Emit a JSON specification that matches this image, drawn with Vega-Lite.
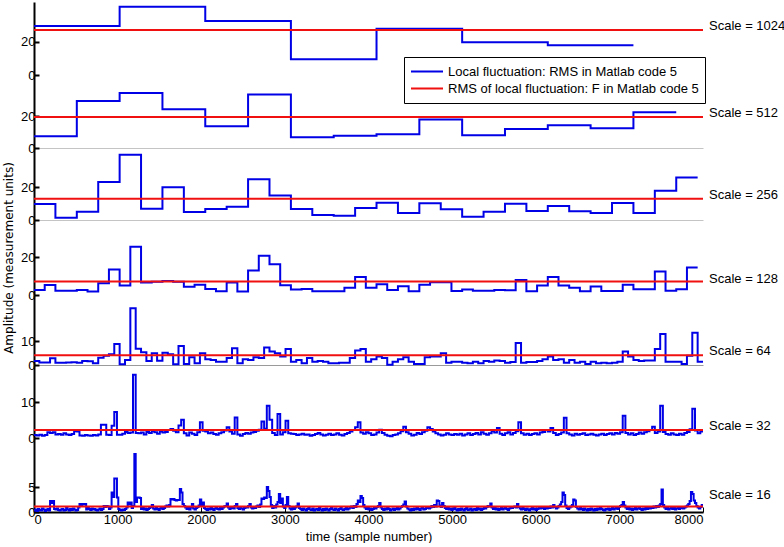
{
"$schema": "https://vega.github.io/schema/vega-lite/v6.json",
"padding": {"left": 2, "top": 2, "right": 0, "bottom": 0},
"bounds": "flush",
"spacing": 0,
"config": {
  "view": {"stroke": null},
  "font": "Liberation Sans",
  "axis": {"grid": false, "labelFont": "Liberation Sans", "labelFontSize": 13, "labelColor": "#000", "domainColor": "#000", "tickColor": "#000", "titleColor": "#000", "titleFontWeight": "normal"},
  "axisY": {"domainWidth": 2, "tickWidth": 2, "tickSize": -5, "labelPadding": 4},
  "line": {"strokeWidth": 2, "color": "#0000e6", "interpolate": "step-after", "strokeJoin": "miter", "strokeCap": "butt"},
  "rule": {"strokeWidth": 2, "color": "#f01010"},
  "text": {"font": "Liberation Sans", "fontSize": 13, "align": "left", "baseline": "middle", "dx": 6, "color": "#000"}
},
"datasets": {
  "rms": [
    {"scale": 1024, "v": 27.0, "label": "Scale = 1024"},
    {"scale": 512, "v": 19.6, "label": "Scale = 512"},
    {"scale": 256, "v": 13.0, "label": "Scale = 256"},
    {"scale": 128, "v": 7.2, "label": "Scale = 128"},
    {"scale": 64, "v": 4.1, "label": "Scale = 64"},
    {"scale": 32, "v": 2.2, "label": "Scale = 32"},
    {"scale": 16, "v": 1.1, "label": "Scale = 16"}
  ],
  "s1024": [{"t":0,"v":29.4},{"t":1024,"v":41},{"t":2048,"v":32.4},{"t":3072,"v":9.4},{"t":4096,"v":27.8},{"t":5120,"v":19.6},{"t":6144,"v":17.8},{"t":7168,"v":17.8}],
  "s512": [{"t":0,"v":7.4},{"t":512,"v":29.7},{"t":1024,"v":34.8},{"t":1536,"v":24.5},{"t":2048,"v":13.7},{"t":2560,"v":33.8},{"t":3072,"v":6.8},{"t":3584,"v":7.8},{"t":4096,"v":8.7},{"t":4608,"v":18},{"t":5120,"v":8},{"t":5632,"v":12},{"t":6144,"v":14.4},{"t":6656,"v":12.5},{"t":7168,"v":22.6},{"t":7680,"v":22.6}],
  "s256": [{"t":0,"v":9.8},{"t":256,"v":1.4},{"t":512,"v":5.1},{"t":768,"v":23.2},{"t":1024,"v":39.8},{"t":1280,"v":6.9},{"t":1536,"v":20},{"t":1792,"v":4.9},{"t":2048,"v":6.7},{"t":2304,"v":8.1},{"t":2560,"v":24.9},{"t":2816,"v":14.9},{"t":3072,"v":6.7},{"t":3328,"v":3.1},{"t":3584,"v":2.6},{"t":3840,"v":7.3},{"t":4096,"v":10.6},{"t":4352,"v":4.3},{"t":4608,"v":10.2},{"t":4864,"v":6.5},{"t":5120,"v":2.0},{"t":5376,"v":5.1},{"t":5632,"v":10},{"t":5888,"v":5.5},{"t":6144,"v":8.6},{"t":6400,"v":5.3},{"t":6656,"v":4.3},{"t":6912,"v":10.4},{"t":7168,"v":4.3},{"t":7424,"v":17.9},{"t":7680,"v":25.9},{"t":7936,"v":25.9}],
  "s128": [{"t":0,"v":2.7},{"t":128,"v":5.3},{"t":256,"v":2.3},{"t":384,"v":2.3},{"t":512,"v":2.7},{"t":640,"v":1.8},{"t":768,"v":6.2},{"t":896,"v":13.6},{"t":1024,"v":5.0},{"t":1152,"v":25.7},{"t":1280,"v":6.7},{"t":1408,"v":7.1},{"t":1536,"v":7.4},{"t":1664,"v":7.1},{"t":1792,"v":4.4},{"t":1920,"v":5.5},{"t":2048,"v":3.2},{"t":2176,"v":2.0},{"t":2304,"v":6.6},{"t":2432,"v":1.8},{"t":2560,"v":13},{"t":2688,"v":20.9},{"t":2816,"v":16.4},{"t":2944,"v":5.2},{"t":3072,"v":2.9},{"t":3200,"v":3.2},{"t":3328,"v":2.0},{"t":3456,"v":2.0},{"t":3584,"v":2.0},{"t":3712,"v":3.9},{"t":3840,"v":9.6},{"t":3968,"v":3.8},{"t":4096,"v":5.7},{"t":4224,"v":2.7},{"t":4352,"v":4.6},{"t":4480,"v":2.0},{"t":4608,"v":5.5},{"t":4736,"v":6.8},{"t":4864,"v":6.8},{"t":4992,"v":2.1},{"t":5120,"v":2.9},{"t":5248,"v":2.3},{"t":5376,"v":2.3},{"t":5504,"v":2.7},{"t":5632,"v":2.5},{"t":5760,"v":8.0},{"t":5888,"v":2.0},{"t":6016,"v":5.0},{"t":6144,"v":9.6},{"t":6272,"v":5.0},{"t":6400,"v":3.9},{"t":6528,"v":2.0},{"t":6656,"v":4.5},{"t":6784,"v":2.1},{"t":6912,"v":2.1},{"t":7040,"v":5.4},{"t":7168,"v":3.0},{"t":7296,"v":3.0},{"t":7424,"v":12.5},{"t":7552,"v":2.3},{"t":7680,"v":3.0},{"t":7808,"v":14.6},{"t":7936,"v":14.6}],
  "s64": [{"t":0,"v":1.7},{"t":64,"v":1.1},{"t":128,"v":1.1},{"t":192,"v":2.8},{"t":256,"v":1.0},{"t":320,"v":0.9},{"t":384,"v":1.1},{"t":448,"v":1.2},{"t":512,"v":1.0},{"t":576,"v":1.7},{"t":640,"v":1.6},{"t":704,"v":0.7},{"t":768,"v":3.1},{"t":832,"v":3.9},{"t":896,"v":4.5},{"t":960,"v":8.9},{"t":1024,"v":0.3},{"t":1088,"v":2.1},{"t":1152,"v":23.9},{"t":1216,"v":6.8},{"t":1280,"v":5.4},{"t":1344,"v":1.7},{"t":1408,"v":4.9},{"t":1472,"v":1.8},{"t":1536,"v":5.2},{"t":1600,"v":4.5},{"t":1664,"v":0.3},{"t":1728,"v":8.0},{"t":1792,"v":0.4},{"t":1856,"v":3.3},{"t":1920,"v":0.7},{"t":1984,"v":5.0},{"t":2048,"v":2.4},{"t":2112,"v":2.1},{"t":2176,"v":1.4},{"t":2240,"v":1.4},{"t":2304,"v":2.9},{"t":2368,"v":7.1},{"t":2432,"v":0.7},{"t":2496,"v":2.4},{"t":2560,"v":2.1},{"t":2624,"v":3.3},{"t":2688,"v":2.9},{"t":2752,"v":7.4},{"t":2816,"v":5.7},{"t":2880,"v":5.0},{"t":2944,"v":3.6},{"t":3008,"v":6.7},{"t":3072,"v":1.4},{"t":3136,"v":2.1},{"t":3200,"v":0.7},{"t":3264,"v":2.9},{"t":3328,"v":1.4},{"t":3392,"v":1.7},{"t":3456,"v":1.4},{"t":3520,"v":0.7},{"t":3584,"v":0.7},{"t":3648,"v":1.0},{"t":3712,"v":1.0},{"t":3776,"v":2.9},{"t":3840,"v":6.1},{"t":3904,"v":6.7},{"t":3968,"v":1.4},{"t":4032,"v":2.4},{"t":4096,"v":3.6},{"t":4160,"v":2.9},{"t":4224,"v":0.1},{"t":4288,"v":1.4},{"t":4352,"v":2.4},{"t":4416,"v":3.3},{"t":4480,"v":1.4},{"t":4544,"v":0.4},{"t":4608,"v":0.4},{"t":4672,"v":3.3},{"t":4736,"v":3.6},{"t":4800,"v":3.6},{"t":4864,"v":5.0},{"t":4928,"v":1.0},{"t":4992,"v":1.4},{"t":5056,"v":1.4},{"t":5120,"v":1.0},{"t":5184,"v":0.7},{"t":5248,"v":1.4},{"t":5312,"v":0.7},{"t":5376,"v":1.7},{"t":5440,"v":1.4},{"t":5504,"v":1.9},{"t":5568,"v":1.7},{"t":5632,"v":1.0},{"t":5696,"v":1.3},{"t":5760,"v":9.3},{"t":5824,"v":1.0},{"t":5888,"v":1.3},{"t":5952,"v":1.3},{"t":6016,"v":1.7},{"t":6080,"v":2.4},{"t":6144,"v":3.6},{"t":6208,"v":2.1},{"t":6272,"v":2.4},{"t":6336,"v":1.0},{"t":6400,"v":2.1},{"t":6464,"v":1.0},{"t":6528,"v":1.4},{"t":6592,"v":0.4},{"t":6656,"v":1.4},{"t":6720,"v":0.7},{"t":6784,"v":1.0},{"t":6848,"v":0.7},{"t":6912,"v":1.0},{"t":6976,"v":1.4},{"t":7040,"v":5.7},{"t":7104,"v":3.6},{"t":7168,"v":2.1},{"t":7232,"v":1.7},{"t":7296,"v":1.9},{"t":7360,"v":1.9},{"t":7424,"v":6.7},{"t":7488,"v":13.1},{"t":7552,"v":1.4},{"t":7616,"v":1.4},{"t":7680,"v":1.4},{"t":7744,"v":0.4},{"t":7808,"v":3.9},{"t":7872,"v":13.6},{"t":7936,"v":1.4},{"t":8000,"v":1.4}],
  "s32": [
{"t":0,"v":0.8},{"t":32,"v":0.7},{"t":64,"v":0.9},{"t":96,"v":0.6},{"t":128,"v":0.8},{"t":160,"v":1.6},{"t":192,"v":1.4},{"t":224,"v":1.6},{"t":256,"v":1.0},{"t":288,"v":1.1},
{"t":320,"v":0.9},{"t":352,"v":1.3},{"t":384,"v":1.0},{"t":416,"v":0.8},{"t":448,"v":1.1},{"t":480,"v":1.9},{"t":512,"v":1.8},{"t":544,"v":0.7},{"t":576,"v":0.6},{"t":608,"v":0.8},
{"t":640,"v":0.7},{"t":672,"v":0.6},{"t":704,"v":0.8},{"t":736,"v":0.7},{"t":768,"v":1.0},{"t":800,"v":3.7},{"t":832,"v":3.7},{"t":864,"v":0.9},{"t":896,"v":0.8},{"t":928,"v":3.4},
{"t":960,"v":7.2},{"t":992,"v":0.9},{"t":1024,"v":0.9},{"t":1056,"v":1.2},{"t":1088,"v":1.7},{"t":1120,"v":1.4},{"t":1152,"v":1.5},{"t":1184,"v":17.6},{"t":1216,"v":1.4},{"t":1248,"v":1.3},
{"t":1280,"v":1.5},{"t":1312,"v":1.0},{"t":1344,"v":1.7},{"t":1376,"v":1.4},{"t":1408,"v":1.9},{"t":1440,"v":1.6},{"t":1472,"v":1.2},{"t":1504,"v":1.8},{"t":1536,"v":1.5},{"t":1568,"v":1.7},
{"t":1600,"v":2.2},{"t":1632,"v":2.5},{"t":1664,"v":2.0},{"t":1696,"v":1.6},{"t":1728,"v":3.5},{"t":1760,"v":5.1},{"t":1792,"v":1.3},{"t":1824,"v":0.7},{"t":1856,"v":1.5},{"t":1888,"v":1.2},
{"t":1920,"v":0.8},{"t":1952,"v":1.6},{"t":1984,"v":4.4},{"t":2016,"v":2.0},{"t":2048,"v":1.8},{"t":2080,"v":1.3},{"t":2112,"v":1.5},{"t":2144,"v":1.1},{"t":2176,"v":0.9},{"t":2208,"v":1.3},
{"t":2240,"v":1.6},{"t":2272,"v":2.1},{"t":2304,"v":3.0},{"t":2336,"v":1.8},{"t":2368,"v":1.2},{"t":2400,"v":5.7},{"t":2432,"v":1.0},{"t":2464,"v":0.6},{"t":2496,"v":1.1},{"t":2528,"v":1.4},
{"t":2560,"v":1.2},{"t":2592,"v":1.5},{"t":2624,"v":1.7},{"t":2656,"v":2.0},{"t":2688,"v":2.3},{"t":2720,"v":4.6},{"t":2752,"v":2.6},{"t":2784,"v":9.0},{"t":2816,"v":5.1},{"t":2848,"v":1.4},
{"t":2880,"v":0.8},{"t":2912,"v":6.7},{"t":2944,"v":1.0},{"t":2976,"v":1.6},{"t":3008,"v":4.8},{"t":3040,"v":1.3},{"t":3072,"v":1.2},{"t":3104,"v":1.1},{"t":3136,"v":0.8},{"t":3168,"v":1.0},
{"t":3200,"v":1.2},{"t":3232,"v":0.9},{"t":3264,"v":1.0},{"t":3296,"v":0.6},{"t":3328,"v":0.8},{"t":3360,"v":1.1},{"t":3392,"v":1.4},{"t":3424,"v":1.0},{"t":3456,"v":0.7},{"t":3488,"v":0.9},
{"t":3520,"v":1.2},{"t":3552,"v":0.8},{"t":3584,"v":1.0},{"t":3616,"v":1.3},{"t":3648,"v":0.9},{"t":3680,"v":0.7},{"t":3712,"v":1.1},{"t":3744,"v":1.4},{"t":3776,"v":1.8},{"t":3808,"v":2.2},
{"t":3840,"v":3.0},{"t":3872,"v":4.4},{"t":3904,"v":1.5},{"t":3936,"v":1.2},{"t":3968,"v":1.6},{"t":4000,"v":1.3},{"t":4032,"v":0.8},{"t":4064,"v":1.0},{"t":4096,"v":1.5},{"t":4128,"v":2.3},
{"t":4160,"v":1.4},{"t":4192,"v":0.9},{"t":4224,"v":0.6},{"t":4256,"v":0.5},{"t":4288,"v":0.8},{"t":4320,"v":1.0},{"t":4352,"v":1.3},{"t":4384,"v":1.9},{"t":4416,"v":3.1},{"t":4448,"v":1.6},
{"t":4480,"v":1.2},{"t":4512,"v":0.7},{"t":4544,"v":0.9},{"t":4576,"v":1.4},{"t":4608,"v":1.1},{"t":4640,"v":1.6},{"t":4672,"v":2.0},{"t":4704,"v":3.0},{"t":4736,"v":2.5},{"t":4768,"v":1.8},
{"t":4800,"v":1.3},{"t":4832,"v":1.0},{"t":4864,"v":0.7},{"t":4896,"v":0.9},{"t":4928,"v":1.3},{"t":4960,"v":1.0},{"t":4992,"v":0.8},{"t":5024,"v":1.1},{"t":5056,"v":0.9},{"t":5088,"v":1.2},
{"t":5120,"v":0.7},{"t":5152,"v":1.0},{"t":5184,"v":1.3},{"t":5216,"v":0.8},{"t":5248,"v":1.1},{"t":5280,"v":1.4},{"t":5312,"v":1.0},{"t":5344,"v":1.6},{"t":5376,"v":1.2},{"t":5408,"v":0.9},
{"t":5440,"v":1.3},{"t":5472,"v":1.9},{"t":5504,"v":1.5},{"t":5536,"v":2.8},{"t":5568,"v":1.2},{"t":5600,"v":0.8},{"t":5632,"v":1.3},{"t":5664,"v":1.6},{"t":5696,"v":1.0},{"t":5728,"v":1.4},
{"t":5760,"v":1.9},{"t":5792,"v":4.4},{"t":5824,"v":1.3},{"t":5856,"v":0.9},{"t":5888,"v":1.2},{"t":5920,"v":0.8},{"t":5952,"v":1.1},{"t":5984,"v":1.3},{"t":6016,"v":1.0},{"t":6048,"v":1.5},
{"t":6080,"v":1.7},{"t":6112,"v":2.2},{"t":6144,"v":1.8},{"t":6176,"v":2.8},{"t":6208,"v":1.4},{"t":6240,"v":0.8},{"t":6272,"v":1.1},{"t":6304,"v":1.5},{"t":6336,"v":5.6},{"t":6368,"v":1.3},
{"t":6400,"v":1.0},{"t":6432,"v":0.7},{"t":6464,"v":1.2},{"t":6496,"v":0.9},{"t":6528,"v":1.1},{"t":6560,"v":1.3},{"t":6592,"v":0.8},{"t":6624,"v":1.0},{"t":6656,"v":1.2},{"t":6688,"v":0.9},
{"t":6720,"v":0.7},{"t":6752,"v":1.0},{"t":6784,"v":1.2},{"t":6816,"v":0.8},{"t":6848,"v":1.1},{"t":6880,"v":1.3},{"t":6912,"v":1.0},{"t":6944,"v":1.4},{"t":6976,"v":1.2},{"t":7008,"v":1.6},
{"t":7040,"v":6.2},{"t":7072,"v":1.4},{"t":7104,"v":1.0},{"t":7136,"v":1.3},{"t":7168,"v":0.8},{"t":7200,"v":1.1},{"t":7232,"v":1.5},{"t":7264,"v":1.2},{"t":7296,"v":1.6},{"t":7328,"v":1.9},
{"t":7360,"v":2.2},{"t":7392,"v":3.1},{"t":7424,"v":1.4},{"t":7456,"v":1.8},{"t":7488,"v":9.0},{"t":7520,"v":1.7},{"t":7552,"v":1.1},{"t":7584,"v":0.9},{"t":7616,"v":1.3},{"t":7648,"v":1.0},
{"t":7680,"v":0.8},{"t":7712,"v":1.2},{"t":7744,"v":0.9},{"t":7776,"v":1.4},{"t":7808,"v":1.7},{"t":7840,"v":2.4},{"t":7872,"v":8.1},{"t":7904,"v":2.1},{"t":7936,"v":1.3},{"t":7968,"v":1.8},
{"t":8000,"v":1.8}],
  "s16": [
{"t":0,"v":0.3},{"t":16,"v":0.5},{"t":32,"v":0.2},{"t":48,"v":0.6},{"t":64,"v":0.4},{"t":80,"v":0.3},{"t":96,"v":0.7},{"t":112,"v":0.5},{"t":128,"v":0.2},{"t":144,"v":0.4},{"t":160,"v":0.6},{"t":176,"v":0.3},{"t":192,"v":2.2},{"t":208,"v":1.8},{"t":224,"v":2.2},{"t":240,"v":0.6},{"t":256,"v":0.5},{"t":272,"v":0.7},{"t":288,"v":0.4},{"t":304,"v":0.3},
{"t":320,"v":0.5},{"t":336,"v":0.6},{"t":352,"v":0.3},{"t":368,"v":0.4},{"t":384,"v":0.8},{"t":400,"v":0.5},{"t":416,"v":0.3},{"t":432,"v":0.6},{"t":448,"v":0.4},{"t":464,"v":0.7},{"t":480,"v":0.5},{"t":496,"v":0.3},{"t":512,"v":0.4},{"t":528,"v":0.9},{"t":544,"v":1.6},{"t":560,"v":1.4},{"t":576,"v":1.6},{"t":592,"v":1.5},{"t":608,"v":1.6},{"t":624,"v":0.5},
{"t":640,"v":0.8},{"t":656,"v":0.6},{"t":672,"v":0.4},{"t":688,"v":0.7},{"t":704,"v":0.5},{"t":720,"v":0.6},{"t":736,"v":0.4},{"t":752,"v":0.3},{"t":768,"v":0.5},{"t":784,"v":0.7},{"t":800,"v":0.4},{"t":816,"v":0.6},{"t":832,"v":1.2},{"t":848,"v":1.0},{"t":864,"v":1.2},{"t":880,"v":1.1},{"t":896,"v":0.6},{"t":912,"v":0.9},{"t":928,"v":3.9},{"t":944,"v":3.0},
{"t":960,"v":6.7},{"t":976,"v":6.7},{"t":992,"v":2.9},{"t":1008,"v":0.6},{"t":1024,"v":0.4},{"t":1040,"v":0.3},{"t":1056,"v":0.5},{"t":1072,"v":0.4},{"t":1088,"v":0.6},{"t":1104,"v":0.9},{"t":1120,"v":1.9},{"t":1136,"v":1.5},{"t":1152,"v":1.9},{"t":1168,"v":0.8},{"t":1184,"v":1.2},{"t":1200,"v":11.6},{"t":1216,"v":2.0},{"t":1232,"v":2.9},{"t":1248,"v":2.9},{"t":1264,"v":2.8},
{"t":1280,"v":0.6},{"t":1296,"v":0.9},{"t":1312,"v":0.5},{"t":1328,"v":0.7},{"t":1344,"v":0.4},{"t":1360,"v":0.6},{"t":1376,"v":0.8},{"t":1392,"v":1.0},{"t":1408,"v":1.4},{"t":1424,"v":0.7},{"t":1440,"v":0.5},{"t":1456,"v":0.8},{"t":1472,"v":0.6},{"t":1488,"v":0.4},{"t":1504,"v":0.7},{"t":1520,"v":0.9},{"t":1536,"v":0.6},{"t":1552,"v":0.8},{"t":1568,"v":1.1},{"t":1584,"v":1.3},
{"t":1600,"v":1.1},{"t":1616,"v":1.4},{"t":1632,"v":2.6},{"t":1648,"v":2.5},{"t":1664,"v":2.6},{"t":1680,"v":2.4},{"t":1696,"v":2.3},{"t":1712,"v":2.4},{"t":1728,"v":2.4},{"t":1744,"v":4.6},{"t":1760,"v":3.9},{"t":1776,"v":1.6},{"t":1792,"v":1.2},{"t":1808,"v":0.9},{"t":1824,"v":0.6},{"t":1840,"v":0.8},{"t":1856,"v":0.5},{"t":1872,"v":0.9},{"t":1888,"v":1.6},{"t":1904,"v":0.7},
{"t":1920,"v":0.5},{"t":1936,"v":0.8},{"t":1952,"v":1.0},{"t":1968,"v":1.3},{"t":1984,"v":2.5},{"t":2000,"v":1.2},{"t":2016,"v":1.9},{"t":2032,"v":0.8},{"t":2048,"v":0.6},{"t":2064,"v":0.4},{"t":2080,"v":0.7},{"t":2096,"v":0.5},{"t":2112,"v":0.8},{"t":2128,"v":0.6},{"t":2144,"v":0.4},{"t":2160,"v":0.7},{"t":2176,"v":0.9},{"t":2192,"v":0.6},{"t":2208,"v":0.5},{"t":2224,"v":0.8},
{"t":2240,"v":0.6},{"t":2256,"v":0.9},{"t":2272,"v":1.1},{"t":2288,"v":1.2},{"t":2304,"v":1.7},{"t":2320,"v":0.9},{"t":2336,"v":0.6},{"t":2352,"v":0.8},{"t":2368,"v":1.0},{"t":2384,"v":0.7},{"t":2400,"v":1.2},{"t":2416,"v":1.6},{"t":2432,"v":0.8},{"t":2448,"v":0.6},{"t":2464,"v":0.9},{"t":2480,"v":0.7},{"t":2496,"v":0.5},{"t":2512,"v":0.8},{"t":2528,"v":1.0},{"t":2544,"v":0.9},
{"t":2560,"v":1.2},{"t":2576,"v":1.6},{"t":2592,"v":0.9},{"t":2608,"v":0.7},{"t":2624,"v":1.0},{"t":2640,"v":0.8},{"t":2656,"v":1.1},{"t":2672,"v":1.3},{"t":2688,"v":1.0},{"t":2704,"v":1.5},{"t":2720,"v":2.7},{"t":2736,"v":2.6},{"t":2752,"v":2.9},{"t":2768,"v":2.8},{"t":2784,"v":5.0},{"t":2800,"v":4.2},{"t":2816,"v":3.0},{"t":2832,"v":1.4},{"t":2848,"v":0.8},{"t":2864,"v":1.2},
{"t":2880,"v":0.9},{"t":2896,"v":1.5},{"t":2912,"v":2.0},{"t":2928,"v":3.6},{"t":2944,"v":1.8},{"t":2960,"v":2.7},{"t":2976,"v":1.1},{"t":2992,"v":0.8},{"t":3008,"v":1.4},{"t":3024,"v":3.0},{"t":3040,"v":1.2},{"t":3056,"v":0.7},{"t":3072,"v":0.5},{"t":3088,"v":0.8},{"t":3104,"v":0.6},{"t":3120,"v":0.9},{"t":3136,"v":1.1},{"t":3152,"v":1.7},{"t":3168,"v":0.8},{"t":3184,"v":0.6},
{"t":3200,"v":0.4},{"t":3216,"v":0.7},{"t":3232,"v":0.5},{"t":3248,"v":0.3},{"t":3264,"v":0.6},{"t":3280,"v":0.8},{"t":3296,"v":0.5},{"t":3312,"v":0.4},{"t":3328,"v":0.7},{"t":3344,"v":0.3},{"t":3360,"v":0.5},{"t":3376,"v":0.6},{"t":3392,"v":0.4},{"t":3408,"v":0.8},{"t":3424,"v":0.5},{"t":3440,"v":0.3},{"t":3456,"v":0.6},{"t":3472,"v":0.4},{"t":3488,"v":0.7},{"t":3504,"v":0.5},
{"t":3520,"v":0.3},{"t":3536,"v":0.6},{"t":3552,"v":0.8},{"t":3568,"v":0.5},{"t":3584,"v":0.4},{"t":3600,"v":0.7},{"t":3616,"v":0.5},{"t":3632,"v":0.3},{"t":3648,"v":0.6},{"t":3664,"v":0.9},{"t":3680,"v":0.5},{"t":3696,"v":0.4},{"t":3712,"v":0.6},{"t":3728,"v":0.8},{"t":3744,"v":0.5},{"t":3760,"v":0.7},{"t":3776,"v":0.9},{"t":3792,"v":1.1},{"t":3808,"v":0.8},{"t":3824,"v":1.2},
{"t":3840,"v":1.0},{"t":3856,"v":1.6},{"t":3872,"v":2.3},{"t":3888,"v":2.0},{"t":3904,"v":3.2},{"t":3920,"v":2.8},{"t":3936,"v":1.4},{"t":3952,"v":0.9},{"t":3968,"v":0.6},{"t":3984,"v":0.8},{"t":4000,"v":0.5},{"t":4016,"v":0.7},{"t":4032,"v":0.4},{"t":4048,"v":0.6},{"t":4064,"v":0.9},{"t":4080,"v":0.7},{"t":4096,"v":1.0},{"t":4112,"v":1.2},{"t":4128,"v":1.8},{"t":4144,"v":0.9},
{"t":4160,"v":0.6},{"t":4176,"v":0.4},{"t":4192,"v":0.7},{"t":4208,"v":0.5},{"t":4224,"v":0.8},{"t":4240,"v":0.6},{"t":4256,"v":0.3},{"t":4272,"v":0.5},{"t":4288,"v":0.7},{"t":4304,"v":0.4},{"t":4320,"v":0.6},{"t":4336,"v":0.8},{"t":4352,"v":0.5},{"t":4368,"v":0.7},{"t":4384,"v":1.0},{"t":4400,"v":1.2},{"t":4416,"v":1.5},{"t":4432,"v":2.1},{"t":4448,"v":1.1},{"t":4464,"v":0.7},
{"t":4480,"v":0.5},{"t":4496,"v":0.3},{"t":4512,"v":0.6},{"t":4528,"v":0.4},{"t":4544,"v":0.7},{"t":4560,"v":0.5},{"t":4576,"v":0.8},{"t":4592,"v":0.6},{"t":4608,"v":0.4},{"t":4624,"v":0.7},{"t":4640,"v":0.9},{"t":4656,"v":0.5},{"t":4672,"v":0.6},{"t":4688,"v":0.8},{"t":4704,"v":1.0},{"t":4720,"v":0.7},{"t":4736,"v":0.9},{"t":4752,"v":1.2},{"t":4768,"v":1.0},{"t":4784,"v":1.4},
{"t":4800,"v":1.1},{"t":4816,"v":2.3},{"t":4832,"v":2.2},{"t":4848,"v":1.3},{"t":4864,"v":1.0},{"t":4880,"v":1.8},{"t":4896,"v":1.2},{"t":4912,"v":0.8},{"t":4928,"v":0.6},{"t":4944,"v":0.9},{"t":4960,"v":0.5},{"t":4976,"v":0.7},{"t":4992,"v":0.4},{"t":5008,"v":0.6},{"t":5024,"v":0.8},{"t":5040,"v":0.5},{"t":5056,"v":0.3},{"t":5072,"v":0.6},{"t":5088,"v":0.4},{"t":5104,"v":0.7},
{"t":5120,"v":0.5},{"t":5136,"v":0.3},{"t":5152,"v":0.6},{"t":5168,"v":0.8},{"t":5184,"v":0.4},{"t":5200,"v":0.5},{"t":5216,"v":0.7},{"t":5232,"v":0.3},{"t":5248,"v":0.5},{"t":5264,"v":0.6},{"t":5280,"v":0.4},{"t":5296,"v":0.8},{"t":5312,"v":0.5},{"t":5328,"v":0.7},{"t":5344,"v":0.4},{"t":5360,"v":0.6},{"t":5376,"v":0.9},{"t":5392,"v":0.7},{"t":5408,"v":1.0},{"t":5424,"v":1.2},
{"t":5440,"v":1.1},{"t":5456,"v":1.7},{"t":5472,"v":0.9},{"t":5488,"v":0.6},{"t":5504,"v":0.8},{"t":5520,"v":0.5},{"t":5536,"v":0.7},{"t":5552,"v":0.4},{"t":5568,"v":0.6},{"t":5584,"v":0.8},{"t":5600,"v":0.5},{"t":5616,"v":0.7},{"t":5632,"v":0.9},{"t":5648,"v":0.6},{"t":5664,"v":0.4},{"t":5680,"v":0.7},{"t":5696,"v":0.9},{"t":5712,"v":0.8},{"t":5728,"v":1.0},{"t":5744,"v":1.1},
{"t":5760,"v":0.9},{"t":5776,"v":1.6},{"t":5792,"v":1.0},{"t":5808,"v":0.7},{"t":5824,"v":0.5},{"t":5840,"v":0.8},{"t":5856,"v":0.6},{"t":5872,"v":0.4},{"t":5888,"v":0.7},{"t":5904,"v":0.5},{"t":5920,"v":0.3},{"t":5936,"v":0.6},{"t":5952,"v":0.8},{"t":5968,"v":0.5},{"t":5984,"v":0.7},{"t":6000,"v":0.4},{"t":6016,"v":0.6},{"t":6032,"v":0.9},{"t":6048,"v":0.7},{"t":6064,"v":1.0},
{"t":6080,"v":0.8},{"t":6096,"v":0.6},{"t":6112,"v":0.9},{"t":6128,"v":0.7},{"t":6144,"v":1.0},{"t":6160,"v":0.8},{"t":6176,"v":1.1},{"t":6192,"v":0.9},{"t":6208,"v":1.4},{"t":6224,"v":1.0},{"t":6240,"v":0.7},{"t":6256,"v":0.9},{"t":6272,"v":1.2},{"t":6288,"v":1.5},{"t":6304,"v":2.0},{"t":6320,"v":3.9},{"t":6336,"v":3.4},{"t":6352,"v":1.3},{"t":6368,"v":0.8},{"t":6384,"v":0.6},
{"t":6400,"v":0.9},{"t":6416,"v":1.1},{"t":6432,"v":1.4},{"t":6448,"v":2.5},{"t":6464,"v":2.3},{"t":6480,"v":1.0},{"t":6496,"v":0.7},{"t":6512,"v":0.5},{"t":6528,"v":0.8},{"t":6544,"v":0.6},{"t":6560,"v":0.4},{"t":6576,"v":0.7},{"t":6592,"v":0.5},{"t":6608,"v":0.3},{"t":6624,"v":0.6},{"t":6640,"v":0.4},{"t":6656,"v":0.7},{"t":6672,"v":0.5},{"t":6688,"v":0.3},{"t":6704,"v":0.6},
{"t":6720,"v":0.4},{"t":6736,"v":0.7},{"t":6752,"v":0.5},{"t":6768,"v":0.8},{"t":6784,"v":0.6},{"t":6800,"v":0.4},{"t":6816,"v":0.3},{"t":6832,"v":0.6},{"t":6848,"v":0.5},{"t":6864,"v":0.7},{"t":6880,"v":0.4},{"t":6896,"v":0.6},{"t":6912,"v":0.8},{"t":6928,"v":0.5},{"t":6944,"v":0.7},{"t":6960,"v":0.9},{"t":6976,"v":0.6},{"t":6992,"v":1.0},{"t":7008,"v":1.2},{"t":7024,"v":1.4},
{"t":7040,"v":2.0},{"t":7056,"v":1.3},{"t":7072,"v":0.9},{"t":7088,"v":0.6},{"t":7104,"v":0.8},{"t":7120,"v":0.5},{"t":7136,"v":0.7},{"t":7152,"v":0.4},{"t":7168,"v":0.6},{"t":7184,"v":0.8},{"t":7200,"v":0.5},{"t":7216,"v":0.7},{"t":7232,"v":0.9},{"t":7248,"v":0.6},{"t":7264,"v":0.4},{"t":7280,"v":0.7},{"t":7296,"v":0.5},{"t":7312,"v":0.8},{"t":7328,"v":0.6},{"t":7344,"v":0.9},
{"t":7360,"v":0.7},{"t":7376,"v":1.0},{"t":7392,"v":0.8},{"t":7408,"v":1.1},{"t":7424,"v":0.9},{"t":7440,"v":1.2},{"t":7456,"v":1.0},{"t":7472,"v":1.3},{"t":7488,"v":1.6},{"t":7504,"v":4.5},{"t":7520,"v":1.4},{"t":7536,"v":0.9},{"t":7552,"v":0.6},{"t":7568,"v":0.8},{"t":7584,"v":0.5},{"t":7600,"v":0.7},{"t":7616,"v":0.9},{"t":7632,"v":0.6},{"t":7648,"v":0.8},{"t":7664,"v":0.5},
{"t":7680,"v":0.7},{"t":7696,"v":0.9},{"t":7712,"v":0.6},{"t":7728,"v":0.8},{"t":7744,"v":1.0},{"t":7760,"v":0.7},{"t":7776,"v":0.9},{"t":7792,"v":1.1},{"t":7808,"v":1.3},{"t":7824,"v":1.6},{"t":7840,"v":2.2},{"t":7856,"v":4.0},{"t":7872,"v":3.6},{"t":7888,"v":2.3},{"t":7904,"v":1.8},{"t":7920,"v":1.2},{"t":7936,"v":0.9},{"t":7952,"v":0.7},{"t":7968,"v":1.0},{"t":7984,"v":1.4},
{"t":8000,"v":1.4}]
},
"vconcat": [
  {"width": 669, "height": 73, "layer": [
    {"data": {"name": "s1024"}, "mark": {"type": "line"},
     "encoding": {
       "x": {"field": "t", "type": "quantitative", "scale": {"domain": [0, 8000], "nice": false}, "axis": null},
       "y": {"field": "v", "type": "quantitative", "scale": {"domain": [0, 43.8], "nice": false}, "axis": {"values": [0, 20], "title": null}},
       "color": {"datum": "Local fluctuation: RMS in Matlab code 5",
         "scale": {"domain": ["Local fluctuation: RMS in Matlab code 5", "RMS of local fluctuation: F in Matlab code 5"], "range": ["#0000e6", "#f01010"]},
         "legend": {"orient": "none", "legendX": 370, "legendY": 55, "title": null, "symbolType": "stroke", "symbolSize": 1024, "symbolStrokeWidth": 2, "clipHeight": 17, "rowPadding": 0, "labelFont": "Liberation Sans", "labelFontSize": 13, "labelColor": "#000", "labelLimit": 400, "labelOffset": 4, "padding": 6, "fillColor": "white", "strokeColor": "black"}}
     }},
    {"data": {"name": "rms"}, "transform": [{"filter": "datum.scale == 1024"}], "mark": {"type": "rule"},
     "encoding": {"y": {"field": "v", "type": "quantitative"}, "color": {"datum": "RMS of local fluctuation: F in Matlab code 5"}}},
    {"data": {"name": "rms"}, "transform": [{"filter": "datum.scale == 1024"}], "mark": {"type": "text", "dy": -4},
     "encoding": {"x": {"datum": 8000, "type": "quantitative"}, "y": {"field": "v", "type": "quantitative"}, "text": {"field": "label"}}}
  ]},
  {"width": 669, "height": 73, "layer": [
    {"data": {"name": "s512"}, "mark": {"type": "line"},
     "encoding": {
       "x": {"field": "t", "type": "quantitative", "scale": {"domain": [0, 8000], "nice": false}, "axis": {"labels": false, "ticks": false, "domainColor": "#c4c4c4", "domainWidth": 1, "title": null}},
       "y": {"field": "v", "type": "quantitative", "scale": {"domain": [0, 46.2], "nice": false}, "axis": {"values": [0, 20], "title": null}}
     }},
    {"data": {"name": "rms"}, "transform": [{"filter": "datum.scale == 512"}], "mark": {"type": "rule"},
     "encoding": {"y": {"field": "v", "type": "quantitative"}}},
    {"data": {"name": "rms"}, "transform": [{"filter": "datum.scale == 512"}], "mark": {"type": "text", "dy": -4},
     "encoding": {"x": {"datum": 8000, "type": "quantitative"}, "y": {"field": "v", "type": "quantitative"}, "text": {"field": "label"}}}
  ]},
  {"width": 669, "height": 72, "layer": [
    {"data": {"name": "s256"}, "mark": {"type": "line"},
     "encoding": {
       "x": {"field": "t", "type": "quantitative", "scale": {"domain": [0, 8000], "nice": false}, "axis": {"labels": false, "ticks": false, "domainColor": "#c4c4c4", "domainWidth": 1, "title": null}},
       "y": {"field": "v", "type": "quantitative", "scale": {"domain": [0, 44.0], "nice": false}, "axis": {"values": [0, 20], "title": null}}
     }},
    {"data": {"name": "rms"}, "transform": [{"filter": "datum.scale == 256"}], "mark": {"type": "rule"},
     "encoding": {"y": {"field": "v", "type": "quantitative"}}},
    {"data": {"name": "rms"}, "transform": [{"filter": "datum.scale == 256"}], "mark": {"type": "text", "dy": -4},
     "encoding": {"x": {"datum": 8000, "type": "quantitative"}, "y": {"field": "v", "type": "quantitative"}, "text": {"field": "label"}}}
  ]},
  {"width": 669, "height": 75, "layer": [
    {"data": {"name": "s128"}, "mark": {"type": "line"},
     "encoding": {
       "x": {"field": "t", "type": "quantitative", "scale": {"domain": [0, 8000], "nice": false}, "axis": null},
       "y": {"field": "v", "type": "quantitative", "scale": {"domain": [0, 39.9], "nice": false}, "axis": {"values": [0, 20], "title": "Amplitude (measurement units)", "titleFont": "DejaVu Sans", "titleFontSize": 12, "titlePadding": 5}}
     }},
    {"data": {"name": "rms"}, "transform": [{"filter": "datum.scale == 128"}], "mark": {"type": "rule"},
     "encoding": {"y": {"field": "v", "type": "quantitative"}}},
    {"data": {"name": "rms"}, "transform": [{"filter": "datum.scale == 128"}], "mark": {"type": "text", "dy": -2},
     "encoding": {"x": {"datum": 8000, "type": "quantitative"}, "y": {"field": "v", "type": "quantitative"}, "text": {"field": "label"}}}
  ]},
  {"width": 669, "height": 70, "layer": [
    {"data": {"name": "s64"}, "mark": {"type": "line"},
     "encoding": {
       "x": {"field": "t", "type": "quantitative", "scale": {"domain": [0, 8000], "nice": false}, "axis": {"labels": false, "ticks": false, "domainColor": "#9a9a9a", "domainWidth": 1, "title": null}},
       "y": {"field": "v", "type": "quantitative", "scale": {"domain": [0, 29.5], "nice": false}, "axis": {"values": [0, 10], "title": null}}
     }},
    {"data": {"name": "rms"}, "transform": [{"filter": "datum.scale == 64"}], "mark": {"type": "rule"},
     "encoding": {"y": {"field": "v", "type": "quantitative"}}},
    {"data": {"name": "rms"}, "transform": [{"filter": "datum.scale == 64"}], "mark": {"type": "text", "dy": -4},
     "encoding": {"x": {"datum": 8000, "type": "quantitative"}, "y": {"field": "v", "type": "quantitative"}, "text": {"field": "label"}}}
  ]},
  {"width": 669, "height": 73, "layer": [
    {"data": {"name": "s32"}, "mark": {"type": "line"},
     "encoding": {
       "x": {"field": "t", "type": "quantitative", "scale": {"domain": [0, 8000], "nice": false}, "axis": null},
       "y": {"field": "v", "type": "quantitative", "scale": {"domain": [0, 20.3], "nice": false}, "axis": {"values": [0, 10], "title": null}}
     }},
    {"data": {"name": "rms"}, "transform": [{"filter": "datum.scale == 32"}], "mark": {"type": "rule"},
     "encoding": {"y": {"field": "v", "type": "quantitative"}}},
    {"data": {"name": "rms"}, "transform": [{"filter": "datum.scale == 32"}], "mark": {"type": "text", "dy": -4},
     "encoding": {"x": {"datum": 8000, "type": "quantitative"}, "y": {"field": "v", "type": "quantitative"}, "text": {"field": "label"}}}
  ]},
  {"width": 669, "height": 74, "layer": [
    {"data": {"name": "s16"}, "mark": {"type": "line"},
     "encoding": {
       "x": {"field": "t", "type": "quantitative", "scale": {"domain": [0, 8000], "nice": false}, "axis": {"values": [0,1000,2000,3000,4000,5000,6000,7000,8000], "format": "d", "title": "time (sample number)", "titleFont": "Liberation Sans", "titleFontSize": 13, "titlePadding": 4, "tickSize": -5, "tickWidth": 1, "domainWidth": 2, "labelPadding": 6}},
       "y": {"field": "v", "type": "quantitative", "scale": {"domain": [0, 14.8], "nice": false}, "axis": {"values": [0, 5], "title": null}}
     }},
    {"data": {"name": "rms"}, "transform": [{"filter": "datum.scale == 16"}], "mark": {"type": "rule"},
     "encoding": {"y": {"field": "v", "type": "quantitative"}}},
    {"data": {"name": "rms"}, "transform": [{"filter": "datum.scale == 16"}], "mark": {"type": "text", "dy": -12},
     "encoding": {"x": {"datum": 8000, "type": "quantitative"}, "y": {"field": "v", "type": "quantitative"}, "text": {"field": "label"}}}
  ]}
]
}
